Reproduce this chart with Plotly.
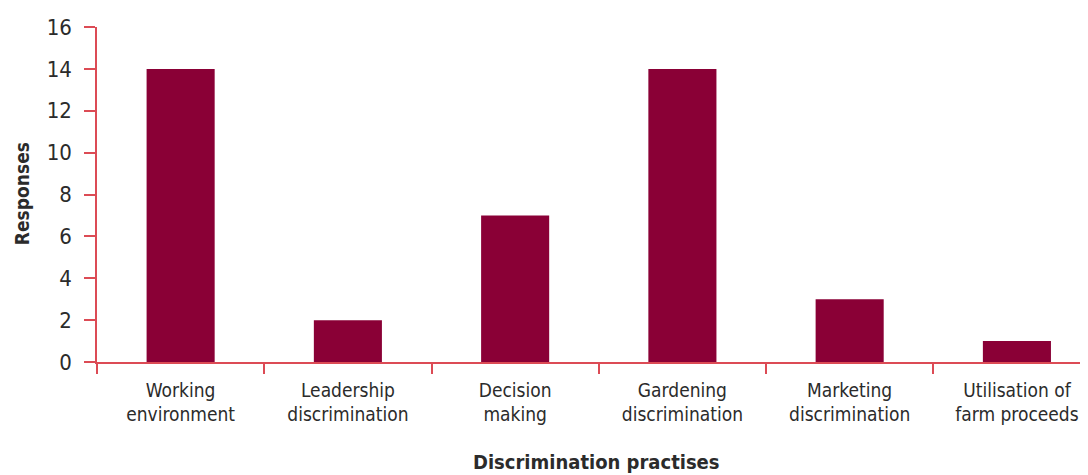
import plotly.graph_objects as go

categories = ["Working<br>environment", "Leadership<br>discrimination", "Decision<br>making",
              "Gardening<br>discrimination", "Marketing<br>discrimination", "Utilisation of<br>farm proceeds"]
responses = [14, 2, 7, 14, 3, 1]
y_ticks = [0, 2, 4, 6, 8, 10, 12, 14, 16]

BAR = "#8a0036"
AXIS = "#dc4b55"
TXT = "#2b2b2b"
FONT = "DejaVu Sans Condensed, Roboto, sans-serif"

fig = go.Figure(go.Bar(x=categories, y=responses, marker=dict(color=BAR, line=dict(width=0)), width=0.407))
fig.update_layout(
    width=1080, height=467,
    margin=dict(l=89, r=0, t=19, b=113),
    plot_bgcolor="white", paper_bgcolor="white",
    font=dict(family=FONT, color=TXT, size=19),
    showlegend=False,
)
fig.update_xaxes(
    range=[-0.5, 5.425],
    showline=True, linecolor=AXIS, linewidth=1.5, automargin=False,
    ticks="outside", tickson="boundaries", tickcolor=AXIS, ticklen=10, tickwidth=1.5,
    showgrid=False, tickfont=dict(size=19, color=TXT), ticklabelstandoff=10,
)
fig.update_yaxes(
    range=[0, 16], tickvals=y_ticks, showline=True, linecolor=AXIS, linewidth=1.5, automargin=False,
    ticks="outside", tickcolor=AXIS, ticklen=11, tickwidth=1.5, showgrid=False, zeroline=False,
    tickfont=dict(size=22, color=TXT), ticklabelstandoff=8,
)
fig.add_annotation(text="<b>Discrimination practises</b>", xref="paper", yref="paper",
                   x=0.5045, y=-0.2985, yanchor="middle", showarrow=False,
                   font=dict(size=20, color=TXT, family=FONT))
fig.add_annotation(text="<b>Responses</b>", xref="paper", yref="paper", textangle=-90,
                   x=-0.0757, y=0.504, xanchor="center", yanchor="middle", showarrow=False,
                   font=dict(size=19, color=TXT, family=FONT))
fig.write_html("out.html")
